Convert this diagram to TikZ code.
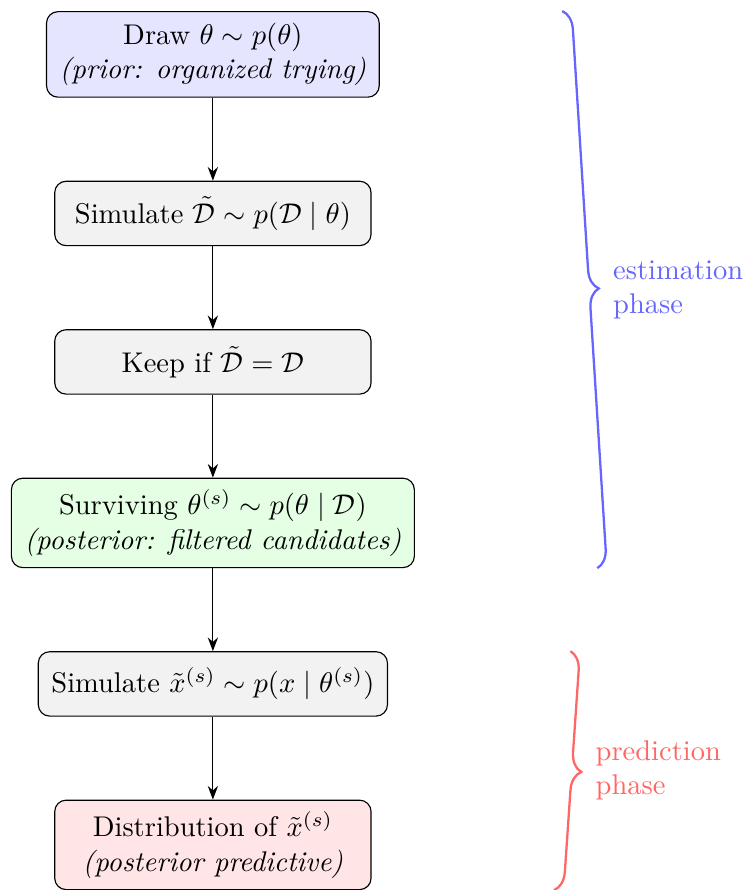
\documentclass[tikz,border=0pt]{standalone}
\usepackage{amsmath,amssymb}
\usetikzlibrary{arrows.meta,positioning,calc,decorations.pathreplacing}

\begin{document}
\begin{tikzpicture}[
  box/.style={draw, rounded corners=4pt, align=center, minimum width=111pt, minimum height=22.6pt, inner xsep=4.6pt, inner ysep=4pt},
  arr/.style={-{Stealth}},
  phasebrace/.style={decorate, decoration={brace, amplitude=6.7pt}, thick},
  phaselabel/.style={midway, right=8pt, align=left},
  node distance=29.1pt
]
\useasboundingbox (0,0) rectangle (262.1pt,-312.3pt);

% estimation steps
\node[box, fill=blue!10, anchor=north] (prior) at (74.7pt,-3.9pt) {Draw $\theta \sim p(\theta)$\\ \textit{(prior: organized trying)}};
\node[box, fill=gray!10, below=of prior] (simdata) {Simulate $\tilde{\mathcal{D}} \sim p(\mathcal{D} \mid \theta)$};
\node[box, fill=gray!10, below=of simdata] (keep) {Keep if $\tilde{\mathcal{D}} = \mathcal{D}$};
\node[box, fill=green!10, below=of keep] (post) {Surviving $\theta^{(s)} \sim p(\theta \mid \mathcal{D})$\\ \textit{(posterior: filtered candidates)}};

% prediction steps
\node[box, fill=gray!10, below=of post] (simx) {Simulate $\tilde{x}^{(s)} \sim p(x \mid \theta^{(s)})$};
\node[box, fill=red!10, below=of simx] (pred) {Distribution of $\tilde{x}^{(s)}$\\ \textit{(posterior predictive)}};

\draw[arr] (prior) -- (simdata);
\draw[arr] (simdata) -- (keep);
\draw[arr] (keep) -- (post);
\draw[arr] (post) -- (simx);
\draw[arr] (simx) -- (pred);

% phases
\draw[phasebrace, blue!60] ($(prior.north east)+(64pt,0)$) -- ($(post.south east)+(64pt,0)$)
  node[phaselabel, text=blue!60] {estimation\\phase};
\draw[phasebrace, red!60] ($(simx.north east)+(64pt,0)$) -- ($(pred.south east)+(64pt,0)$)
  node[phaselabel, text=red!60] {prediction\\phase};
\end{tikzpicture}
\end{document}
